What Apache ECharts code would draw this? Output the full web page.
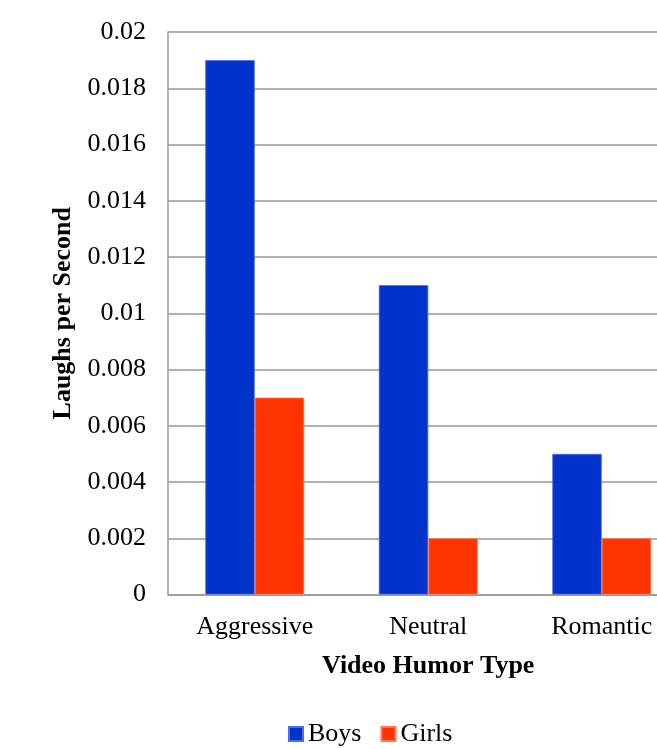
<!DOCTYPE html>
<html>
<head>
<meta charset="utf-8">
<script src="https://cdn.jsdelivr.net/npm/echarts@6/dist/echarts.min.js"></script>
<style>
  html, body { margin: 0; padding: 0; background: #fff; }
  #chart { width: 657px; height: 749px; }
</style>
</head>
<body>
<div id="chart"></div>
<script>
// Laughs per second by video humor type, split by gender
const categories = ['Aggressive', 'Neutral', 'Romantic'];
const boys = [0.019, 0.011, 0.005];
const girls = [0.007, 0.002, 0.002];
const yTicks = [0, 0.002, 0.004, 0.006, 0.008, 0.01, 0.012, 0.014, 0.016, 0.018, 0.02];

const font = '"Liberation Serif", "Times New Roman", serif';
const chart = echarts.init(document.getElementById('chart'), null, { renderer: 'canvas' });

chart.setOption({
  animation: false,
  backgroundColor: '#ffffff',
  textStyle: { fontFamily: font, color: '#000' },
  grid: {
    left: 168, top: 32, width: 520.5, bottom: 154.5,
    containLabel: false, outerBoundsMode: 'none'
  },
  legend: {
    data: ['Boys', 'Girls'],
    top: 721,
    left: 288,
    padding: 0,
    itemWidth: 14,
    itemHeight: 14,
    itemGap: 19,
    icon: 'rect',
    textStyle: { fontFamily: font, fontSize: 26, color: '#000' }
  },
  xAxis: {
    type: 'category',
    data: categories,
    name: 'Video Humor Type',
    nameLocation: 'middle',
    nameGap: 59,
    nameTextStyle: { fontFamily: font, fontSize: 26, fontWeight: 'bold', color: '#000' },
    axisLine: { lineStyle: { color: '#999', width: 1.5 } },
    axisTick: { show: false },
    axisLabel: { fontFamily: font, fontSize: 26, color: '#000', margin: 20 }
  },
  yAxis: {
    type: 'value',
    min: 0,
    max: 0.02,
    interval: 0.002,
    name: 'Laughs per Second',
    nameLocation: 'middle',
    nameGap: 91,
    nameTextStyle: { fontFamily: font, fontSize: 26, fontWeight: 'bold', color: '#000' },
    axisLine: { show: true, lineStyle: { color: '#999', width: 1.5 } },
    axisTick: { show: false },
    splitLine: { lineStyle: { color: '#999', width: 1.5 } },
    axisLabel: {
      fontFamily: font, fontSize: 26, color: '#000', margin: 22,
      formatter: v => {
        const t = yTicks.find(x => Math.abs(x - v) < 1e-9);
        return String(t !== undefined ? t : +v.toFixed(3));
      }
    }
  },
  series: [
    {
      name: 'Boys', type: 'bar', data: boys,
      barGap: '0%', barCategoryGap: '43%',
      itemStyle: { color: '#0033cc', borderColor: '#4d6fe0', borderWidth: 0.8 }
    },
    {
      name: 'Girls', type: 'bar', data: girls,
      barGap: '0%', barCategoryGap: '43%',
      itemStyle: { color: '#ff3300', borderColor: '#ff7a55', borderWidth: 0.8 }
    }
  ]
});
</script>
</body>
</html>
